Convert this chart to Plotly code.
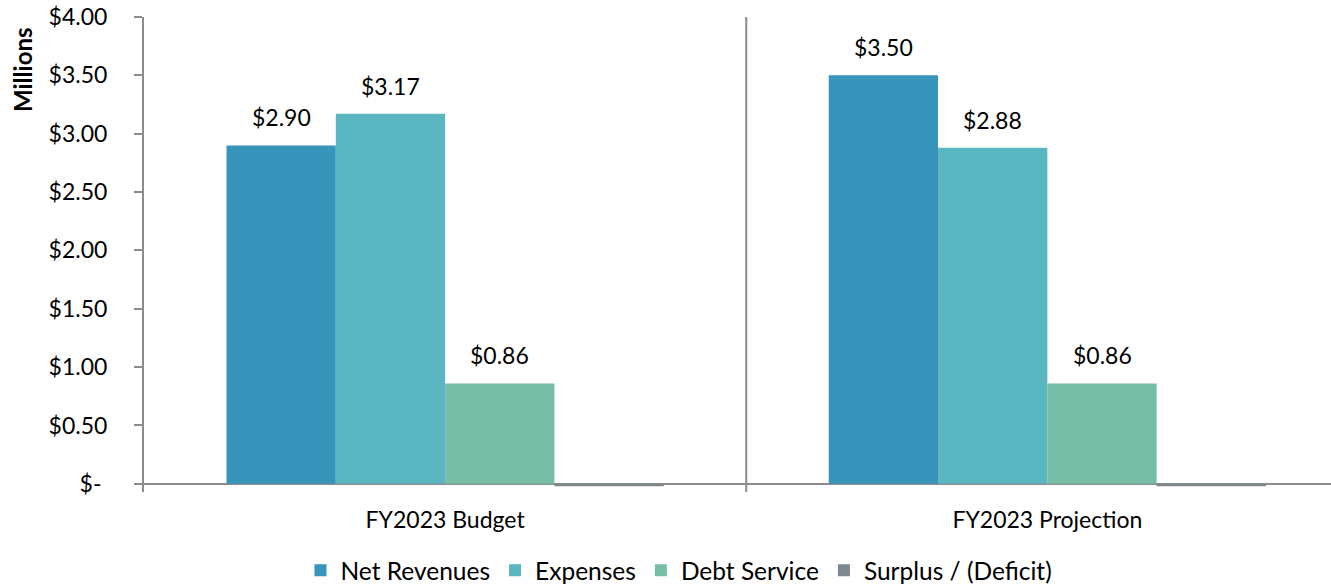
import plotly.graph_objects as go

categories = ["FY2023 Budget", "FY2023 Projection"]
series_names = ["Net Revenues", "Expenses", "Debt Service", "Surplus / (Deficit)"]
net_revenues = [2.90, 3.50]
expenses = [3.17, 2.88]
debt_service = [0.86, 0.86]
surplus = [-0.02, -0.02]
y_tickvals = [0, 0.5, 1.0, 1.5, 2.0, 2.5, 3.0, 3.5, 4.0]
y_ticktext = ["$-\u00a0", "$0.50", "$1.00", "$1.50", "$2.00", "$2.50", "$3.00", "$3.50", "$4.00"]

colors = ["#3795BC", "#5AB6C0", "#76BEA6", "#7C888D"]
all_values = [net_revenues, expenses, debt_service, surplus]
x_pos = list(range(len(categories)))

FONT = "Lato"
FS = 23
bar_w = 0.1815
bargap = 1 - 4 * bar_w

fig = go.Figure()
for name, vals, col in zip(series_names, all_values, colors):
    fig.add_trace(go.Bar(x=x_pos, y=vals, name=name, marker=dict(color=col, line=dict(width=0))))

annotations = []
for i, vals in enumerate(all_values[:3]):
    for c, v in zip(x_pos, vals):
        annotations.append(dict(
            x=c + (i - 1.5) * bar_w, y=v, xref="x", yref="y",
            text=f"${v:.2f}", showarrow=False, yanchor="bottom", yshift=12,
            font=dict(family=FONT, size=FS, color="#000000")))

annotations.append(dict(
    xref="paper", yref="paper", x=0, y=1, xshift=-122, yshift=-53,
    xanchor="center", yanchor="middle", textangle=-90, text="<b>Millions</b>",
    showarrow=False, font=dict(family=FONT, size=24, color="#000000")))

fig.update_layout(
    width=1331, height=585,
    margin=dict(l=144, r=0, t=17, b=93, autoexpand=False),
    paper_bgcolor="white", plot_bgcolor="white",
    barmode="group", bargap=bargap, bargroupgap=0,
    font=dict(family=FONT, size=FS, color="#000000"),
    showlegend=True,
    legend=dict(orientation="h", x=0.4507, xanchor="center", y=-0.165, yanchor="middle",
                font=dict(family=FONT, size=24.5, color="#000000"), itemwidth=30,
                traceorder="normal"),
    annotations=annotations,
    shapes=[dict(type="line", xref="x", yref="y", x0=0.5, x1=0.5, y0=-0.07, y1=4.0,
                 line=dict(color="#8C8C8C", width=2))],
)
fig.update_xaxes(range=[-0.5, 1.471], tickvals=x_pos, ticktext=categories,
                 showgrid=False, showline=False, ticks="", ticklabelstandoff=12,
                 tickfont=dict(family=FONT, size=FS, color="#000000"), zeroline=False)
fig.update_yaxes(range=[-0.07, 4.0], tickvals=y_tickvals, ticktext=y_ticktext,
                 showgrid=False, showline=True, linecolor="#8C8C8C", linewidth=2,
                 ticks="outside", ticklen=8, tickcolor="#8C8C8C", tickwidth=2,
                 ticklabelstandoff=22,
                 zeroline=True, zerolinecolor="#8C8C8C", zerolinewidth=2,
                 tickfont=dict(family=FONT, size=FS, color="#000000"))

fig.write_html("out.html")
